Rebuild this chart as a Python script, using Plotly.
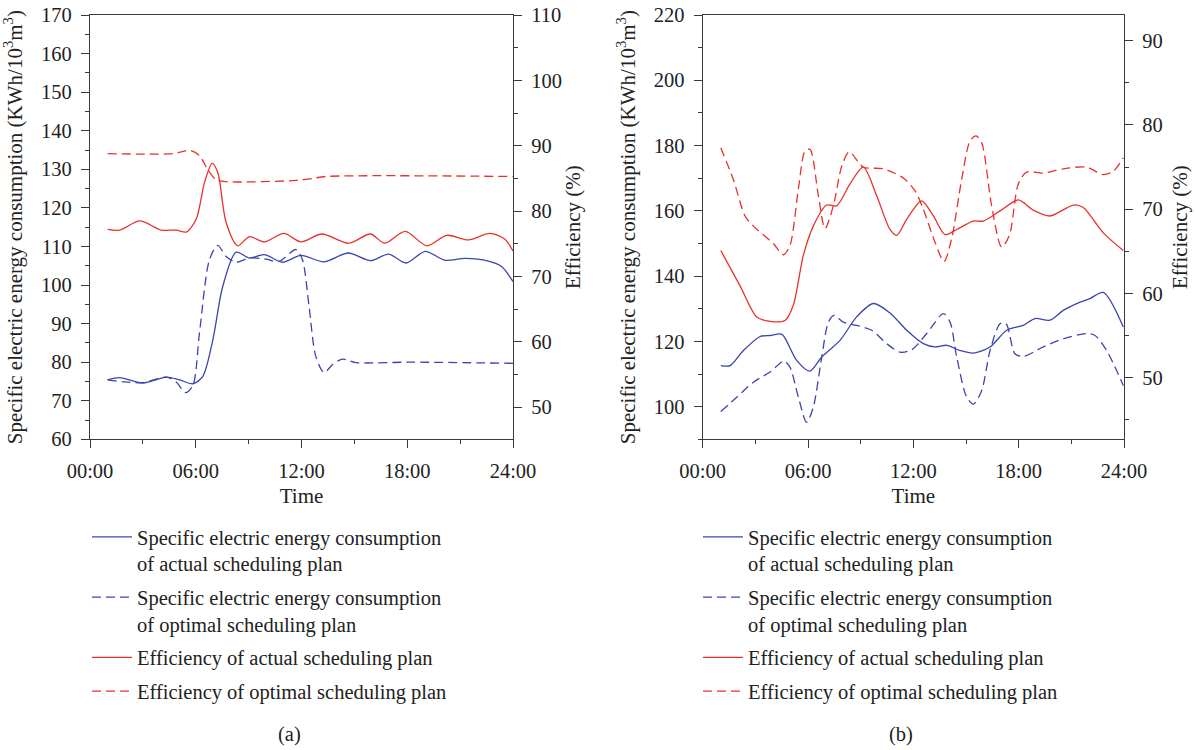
import plotly.graph_objects as go

# ---------------- Panel (a) ----------------
# Specific electric energy consumption, actual plan (KWh/10^3 m^3)
a_t_ec_act = [1.0, 1.69, 3.01, 4.33, 5.08, 5.84, 6.40, 6.97, 7.53, 8.29, 9.04, 9.89,
              10.92, 11.96, 13.28, 14.65, 15.91, 16.95, 17.93, 19.02, 20.15, 21.28,
              22.60, 23.35, 24.0]
a_ec_act = [75.4, 76.0, 74.6, 76.1, 75.4, 74.4, 76.3, 85.8, 99.6, 108.5, 107.0, 107.9,
            105.9, 107.7, 106.0, 108.3, 106.3, 108.0, 105.7, 108.7, 106.4, 106.9,
            106.2, 104.8, 100.9]

# Specific electric energy consumption, optimal plan
a_t_ec_opt = [1.0, 1.88, 3.01, 4.33, 4.90, 5.42, 5.84, 6.21, 6.78, 7.25, 7.72, 8.29,
              9.04, 9.98, 10.73, 11.68, 12.05, 12.43, 12.81, 13.28, 13.75, 14.31,
              15.07, 18.27, 24.0]
a_ec_opt = [75.4, 74.9, 74.7, 76.1, 74.8, 72.1, 74.0, 87.5, 106.6, 110.3, 107.4, 105.9,
            107.0, 106.7, 106.1, 109.2, 106.6, 94.4, 81.5, 77.3, 79.3, 80.8,
            79.9, 80.0, 79.7]

# Efficiency, actual plan (%)
a_t_eff_act = [1.0, 1.69, 2.82, 4.05, 4.90, 5.46, 6.03, 6.50, 6.93, 7.25, 7.72, 8.38,
               9.04, 9.89, 11.0, 11.96, 13.15, 14.69, 15.91, 16.72, 17.89, 19.11,
               20.24, 21.47, 22.69, 23.54, 24.0]
a_eff_act = [77.2, 77.1, 78.5, 77.1, 77.1, 76.8, 78.8, 84.4, 87.3, 85.9, 78.3, 74.7,
             76.1, 75.3, 76.6, 75.3, 76.5, 75.1, 76.5, 75.1, 76.9, 74.7,
             76.3, 75.6, 76.6, 75.7, 73.9]

# Efficiency, optimal plan (%)
a_t_eff_opt = [1.0, 4.71, 5.65, 6.21, 6.69, 7.16, 7.72, 11.68, 12.62, 13.37, 24.0]
a_eff_opt = [88.8, 88.8, 89.3, 88.5, 86.3, 84.8, 84.5, 84.7, 85.0, 85.3, 85.3]

# ---------------- Panel (b) ----------------
b_t_ec_act = [1.03, 1.56, 2.32, 3.27, 3.84, 4.50, 5.35, 6.11, 6.78, 7.82, 8.77, 9.72,
              10.67, 11.62, 12.57, 13.23, 13.90, 14.66, 15.42, 16.37, 17.32, 18.26,
              18.93, 19.78, 20.54, 21.40, 22.06, 22.82, 23.96]
b_ec_act = [112.6, 112.6, 117.2, 121.5, 121.8, 122.2, 114.2, 110.9, 115.2, 120.3, 127.5,
            131.6, 128.7, 123.4, 119.3, 118.3, 118.8, 117.2, 116.4, 118.3, 123.4,
            124.9, 127.0, 126.5, 129.5, 131.8, 133.1, 135.0, 124.4]

b_t_ec_opt = [1.03, 1.94, 2.89, 3.84, 4.63, 4.97, 5.45, 5.92, 6.30, 6.78, 7.16, 7.48,
              8.01, 8.77, 9.63, 10.48, 11.24, 11.90, 12.76, 13.71, 14.09, 14.47,
              15.04, 15.42, 15.89, 16.37, 16.94, 17.28, 17.79, 18.26, 19.40, 20.54,
              21.87, 22.35, 23.01, 23.96]
b_ec_opt = [98.5, 102.9, 107.5, 110.6, 114.0, 112.1, 102.9, 95.2, 99.8, 115.2, 125.9,
            128.0, 125.9, 124.9, 123.4, 119.3, 116.7, 117.4, 122.4, 128.5, 125.9,
            115.2, 102.9, 100.8, 104.9, 117.2, 125.4, 125.4, 116.2, 115.4, 118.3,
            120.8, 122.4, 121.8, 117.2, 106.5]

b_t_eff_act = [1.03, 2.13, 3.08, 3.84, 4.69, 5.16, 5.73, 6.30, 7.06, 7.63, 8.39, 9.15,
               9.91, 10.67, 11.05, 11.62, 12.47, 13.14, 13.80, 14.47, 15.42, 15.99,
               16.94, 17.98, 18.83, 19.78, 21.11, 21.68, 22.82, 23.96]
b_eff_act = [65.1, 60.9, 57.2, 56.7, 56.8, 58.6, 64.5, 68.0, 70.5, 70.4, 73.0, 75.0,
             71.6, 67.6, 66.9, 68.8, 71.0, 69.2, 67.0, 67.6, 68.6, 68.6,
             69.8, 71.1, 69.9, 69.2, 70.5, 70.2, 67.2, 65.1]

b_t_eff_opt = [1.03, 1.75, 2.41, 2.89, 4.03, 4.59, 4.97, 5.45, 5.83, 6.11, 6.59, 6.97,
               7.44, 7.92, 8.35, 9.15, 10.29, 11.43, 12.09, 12.57, 13.23, 13.75,
               14.18, 14.75, 15.23, 15.57, 15.89, 16.46, 17.03, 17.47, 17.98, 18.45,
               19.40, 20.54, 21.87, 22.82, 23.39, 23.96]
b_eff_opt = [77.3, 73.5, 69.2, 68.0, 65.9, 64.6, 65.7, 72.4, 76.9, 77.1, 71.6, 67.7,
             70.4, 75.1, 76.8, 75.0, 74.8, 73.7, 72.2, 70.0, 66.1, 63.8,
             66.5, 73.5, 78.1, 78.7, 77.9, 70.4, 65.5, 66.9, 73.0, 74.4,
             74.3, 74.8, 75.0, 74.1, 74.5, 76.1]

# ---------------- Labels ----------------
time_ticks = [0, 6, 12, 18, 24]
time_labels = ["00:00", "06:00", "12:00", "18:00", "24:00"]
series_names = [
    "Specific electric energy consumption<br>of actual scheduling plan",
    "Specific electric energy consumption<br>of optimal scheduling plan",
    "Efficiency of actual scheduling plan",
    "Efficiency of optimal scheduling plan",
]
y_left_title = "Specific electric energy consumption (KWh/10<sup>3</sup>m<sup>3</sup>)"
y_right_title = "Efficiency (%)"

BLUE = "#3c44ad"
RED = "#e8312b"
AXIS = "#3a3a3a"
TEXT = "#222222"
FONT = "Liberation Serif"
DASH = "9px,5px"
W, H = 1196, 750

fig = go.Figure()


def add_panel(xa, yl, yr, legend, data):
    (t1, v1), (t2, v2), (t3, v3), (t4, v4) = data
    specs = [
        (t1, v1, BLUE, "solid", yl),
        (t2, v2, BLUE, DASH, yl),
        (t3, v3, RED, "solid", yr),
        (t4, v4, RED, DASH, yr),
    ]
    for i, (t, v, c, d, ya) in enumerate(specs):
        fig.add_trace(go.Scatter(
            x=t, y=v, mode="lines", name=series_names[i],
            line=dict(color=c, width=1.3, dash=d, shape="spline", smoothing=0.8),
            xaxis=xa, yaxis=ya, legend=legend, legendgroup=f"{legend}{i}",
        ))


add_panel("x", "y", "y2", "legend",
          [(a_t_ec_act, a_ec_act), (a_t_ec_opt, a_ec_opt),
           (a_t_eff_act, a_eff_act), (a_t_eff_opt, a_eff_opt)])
add_panel("x2", "y3", "y4", "legend2",
          [(b_t_ec_act, b_ec_act), (b_t_ec_opt, b_ec_opt),
           (b_t_eff_act, b_eff_act), (b_t_eff_opt, b_eff_opt)])

tickfont = dict(family=FONT, size=20.5, color=TEXT)
titlefont = dict(family=FONT, size=21, color=TEXT)
common = dict(showline=True, linecolor=AXIS, linewidth=1.3, ticks="outside",
              ticklen=8, tickwidth=1.3, tickcolor=AXIS, showgrid=False,
              zeroline=False, tickfont=tickfont, ticklabelstandoff=5,
              automargin=False)

y_top = 1 - 15 / H
y_bot = 1 - 439.3 / H
xa_dom = [90 / W, 513 / W]
xb_dom = [702.7 / W, 1124 / W]


def xaxis_cfg(dom, anchor):
    return dict(domain=dom, anchor=anchor, range=[0, 24], tickmode="array",
                tickvals=time_ticks, ticktext=time_labels, mirror=True,
                minor=dict(dtick=3, tick0=0, ticklen=4, ticks="outside",
                           tickcolor=AXIS, tickwidth=1.3),
                title=dict(text="Time", font=titlefont, standoff=7), **common)


def yleft_cfg(rng, dtick, mdtick, anchor, standoff):
    return dict(domain=[y_bot, y_top], anchor=anchor, range=rng, dtick=dtick,
                tick0=0, minor=dict(dtick=mdtick, ticklen=4, ticks="outside",
                                     tickcolor=AXIS, tickwidth=1.3),
                title=dict(text=y_left_title, font=titlefont, standoff=standoff),
                **common)


def yright_cfg(rng, overlay, anchor, standoff):
    return dict(domain=[y_bot, y_top], anchor=anchor, overlaying=overlay,
                side="right", range=rng, dtick=10, tick0=0,
                minor=dict(dtick=5, ticklen=4, ticks="outside",
                           tickcolor=AXIS, tickwidth=1.3),
                title=dict(text=y_right_title, font=titlefont, standoff=standoff),
                **common)


legend_common = dict(font=dict(family=FONT, size=20.5, color=TEXT), bgcolor="rgba(0,0,0,0)",
                     xanchor="left", yanchor="top", valign="top",
                     tracegroupgap=4, itemwidth=40, orientation="v",
                     traceorder="grouped", itemclick=False, itemdoubleclick=False)

caption_font = dict(family=FONT, size=20.5, color=TEXT)

fig.update_layout(
    template="none",
    width=W, height=H,
    margin=dict(l=0, r=0, t=0, b=0),
    paper_bgcolor="white", plot_bgcolor="white",
    showlegend=True,
    xaxis=xaxis_cfg(xa_dom, "y"),
    yaxis=yleft_cfg([60, 170], 10, 5, "x", 14),
    yaxis2=yright_cfg([45.1, 110], "y", "x", 4),
    xaxis2=xaxis_cfg(xb_dom, "y3"),
    yaxis3=yleft_cfg([90, 220], 20, 10, "x2", 12),
    yaxis4=yright_cfg([42.7, 93.05], "y3", "x2", 10),
    legend=dict(x=87 / W, y=1 - 517 / H, **legend_common),
    legend2=dict(x=698 / W, y=1 - 517 / H, **legend_common),
    annotations=[
        dict(text="(a)", x=289 / W, y=1 - 734 / H, xref="paper", yref="paper",
             xanchor="center", yanchor="middle", showarrow=False, font=caption_font),
        dict(text="(b)", x=901 / W, y=1 - 734 / H, xref="paper", yref="paper",
             xanchor="center", yanchor="middle", showarrow=False, font=caption_font),
    ],
)

fig.write_html("out.html")
